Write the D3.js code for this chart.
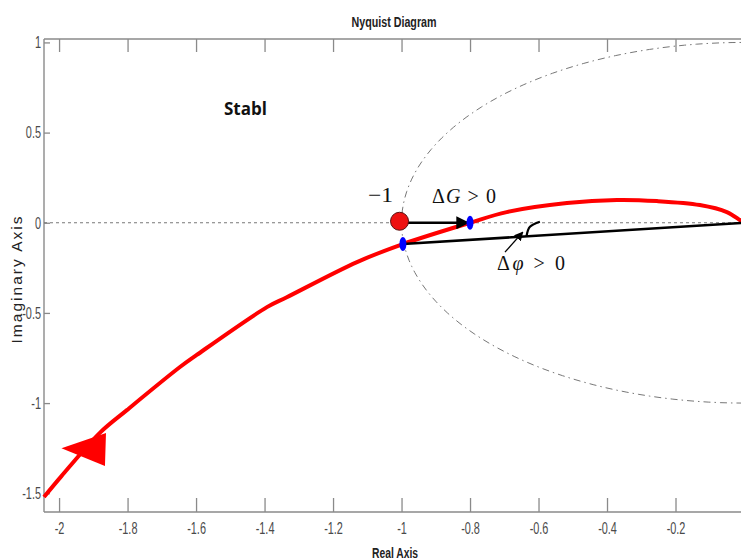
<!DOCTYPE html>
<html>
<head>
<meta charset="utf-8">
<script src="https://cdn.jsdelivr.net/npm/d3@7"></script>
<style>
  html, body { margin: 0; padding: 0; background: #fff; }
  svg { display: block; }
</style>
</head>
<body>
<svg id="chart" width="741" height="560"></svg>
<script>
// Open-loop frequency response (real / imaginary parts)
const nyquistRe = [-2.044, -1.993, -1.881, -1.802, -1.647, -1.598, -1.393, -1.335, -1.130, -0.996, -0.800, -0.693, -0.517, -0.371, -0.254, -0.129, -0.050, -0.012, 0.0];
const nyquistIm = [-1.521, -1.405, -1.165, -1.039, -0.800, -0.733, -0.468, -0.413, -0.218, -0.118, 0.000, 0.059, 0.109, 0.126, 0.120, 0.098, 0.059, 0.015, 0.0];

// Direction marker on the curve (triangle corners, data units)
const arrowRe = [-1.993, -1.863, -1.866];
const arrowIm = [-1.251, -1.166, -1.349];

// Axis ticks
const xTicks = [-2, -1.8, -1.6, -1.4, -1.2, -1, -0.8, -0.6, -0.4, -0.2];
const xTickLabels = ["-2", "-1.8", "-1.6", "-1.4", "-1.2", "-1", "-0.8", "-0.6", "-0.4", "-0.2"];
const yTicks = [1, 0.5, 0, -0.5, -1, -1.5];
const yTickLabels = ["1", "0.5", "0", "-0.5", "-1", "-1.5"];

// Critical point, gain-margin and phase-margin points
const criticalPoint = [-1, 0];
const gainPoint = [-0.8, 0];
const phasePoint = [-0.996, -0.118];
const origin = [0, 0];
// Phase angle arc and its pointer
const arcRe = [-0.635, -0.625, -0.596];
const arcIm = [-0.074, -0.022, 0.006];
const pointerFrom = [-0.698, -0.163];
const pointerTo = [-0.646, -0.052];

const svg = d3.select("#chart");
const plotLeft = 44, plotTop = 39, plotBottom = 512, plotRight = 744;

const x = d3.scaleLinear().domain([-2.044, 0]).range([plotLeft, plotRight]);
const y = d3.scaleLinear().domain([1.019, -1.604]).range([plotTop, plotBottom]);

const axisColor = "#8a8a8a";
const narrow = "'Liberation Sans Narrow', 'Arial Narrow', 'Liberation Sans', sans-serif";

// Squeeze a text element horizontally to mimic a condensed face
function condense(sel, factor) {
  sel.each(function () {
    const w = this.getComputedTextLength();
    d3.select(this).attr("textLength", w * factor).attr("lengthAdjust", "spacingAndGlyphs");
  });
}

// Axis frame
svg.append("line").attr("x1", plotLeft).attr("x2", plotRight).attr("y1", plotTop).attr("y2", plotTop)
  .attr("stroke", axisColor).attr("stroke-width", 1.4);
svg.append("line").attr("x1", plotLeft).attr("x2", plotRight).attr("y1", plotBottom).attr("y2", plotBottom)
  .attr("stroke", axisColor).attr("stroke-width", 1.4);
svg.append("line").attr("x1", plotLeft).attr("x2", plotLeft).attr("y1", plotTop).attr("y2", plotBottom)
  .attr("stroke", axisColor).attr("stroke-width", 1.4);

// Inward ticks on bottom and top
const xBottom = d3.axisBottom(x).tickValues(xTicks).tickSize(-14)
  .tickFormat((d, i) => xTickLabels[i]).tickPadding(22);
const gxb = svg.append("g").attr("transform", `translate(0,${plotBottom})`).call(xBottom);
gxb.select(".domain").remove();
gxb.selectAll(".tick line").attr("stroke", axisColor).attr("stroke-width", 1.3);
gxb.selectAll(".tick text").attr("font-family", narrow).attr("font-size", 16.5)
  .attr("fill", "#4a4a4a").attr("y", 22).attr("dy", 0).call(condense, 0.66);

const xTop = d3.axisTop(x).tickValues(xTicks).tickSize(-13).tickFormat("");
const gxt = svg.append("g").attr("transform", `translate(0,${plotTop})`).call(xTop);
gxt.select(".domain").remove();
gxt.selectAll(".tick line").attr("stroke", axisColor).attr("stroke-width", 1.3);

const yLeft = d3.axisLeft(y).tickValues(yTicks).tickSize(-6)
  .tickFormat((d, i) => yTickLabels[i]).tickPadding(10);
const gy = svg.append("g").attr("transform", `translate(${plotLeft},0)`).call(yLeft);
gy.select(".domain").remove();
gy.selectAll(".tick line").attr("stroke", axisColor).attr("stroke-width", 1.3);
gy.selectAll(".tick text").attr("font-family", narrow).attr("font-size", 16.5)
  .attr("fill", "#4a4a4a").attr("x", -3).call(condense, 0.66);

// Zero line on the real axis
svg.append("line").attr("x1", plotLeft).attr("x2", plotRight).attr("y1", y(0)).attr("y2", y(0))
  .attr("stroke", "#777").attr("stroke-width", 1).attr("stroke-dasharray", "3,3");

// Unit circle (dash-dot)
const circlePts = d3.range(0, 361, 2).map(a => [Math.cos(a * Math.PI / 180), Math.sin(a * Math.PI / 180)]);
svg.append("path")
  .attr("d", d3.line().x(d => x(d[0])).y(d => y(d[1]))(circlePts))
  .attr("fill", "none").attr("stroke", "#777").attr("stroke-width", 1)
  .attr("stroke-dasharray", "7,4,1.5,4");

// Nyquist curve
const curvePts = nyquistRe.map((r, i) => [r, nyquistIm[i]]);
svg.append("path")
  .attr("d", d3.line().x(d => x(d[0])).y(d => y(d[1])).curve(d3.curveCatmullRom)(curvePts))
  .attr("fill", "none").attr("stroke", "#ff0000").attr("stroke-width", 4)
  .attr("stroke-linejoin", "round");

// Direction triangle
const triPts = arrowRe.map((r, i) => [x(r), y(arrowIm[i])]);
svg.append("polygon").attr("points", triPts.map(p => p.join(",")).join(" "))
  .attr("fill", "#ff0000");

// Arrowhead markers
const defs = svg.append("defs");
defs.append("marker").attr("id", "head").attr("viewBox", "0 0 10 10")
  .attr("refX", 9).attr("refY", 5).attr("markerWidth", 5).attr("markerHeight", 5)
  .attr("markerUnits", "strokeWidth").attr("orient", "auto")
  .append("path").attr("d", "M0,0 L10,5 L0,10 Z").attr("fill", "#000");
defs.append("marker").attr("id", "headSmall").attr("viewBox", "0 0 10 10")
  .attr("refX", 9).attr("refY", 5).attr("markerWidth", 7).attr("markerHeight", 7)
  .attr("markerUnits", "strokeWidth").attr("orient", "auto")
  .append("path").attr("d", "M0,0 L10,5 L0,10 Z").attr("fill", "#000");

// Phase margin line: from the unit-circle crossing to the origin
svg.append("line")
  .attr("x1", x(phasePoint[0])).attr("y1", y(phasePoint[1]))
  .attr("x2", x(origin[0])).attr("y2", y(origin[1]))
  .attr("stroke", "#000").attr("stroke-width", 2.6);

// Gain margin arrow: from -1 to the real-axis crossing
svg.append("line")
  .attr("x1", x(criticalPoint[0])).attr("y1", y(criticalPoint[1]))
  .attr("x2", x(gainPoint[0]) - 2).attr("y2", y(gainPoint[1]))
  .attr("stroke", "#000").attr("stroke-width", 2.6)
  .attr("marker-end", "url(#head)");

// Phase angle arc and pointer
const arcPts = arcRe.map((r, i) => [r, arcIm[i]]);
svg.append("path")
  .attr("d", d3.line().x(d => x(d[0])).y(d => y(d[1])).curve(d3.curveNatural)(arcPts))
  .attr("fill", "none").attr("stroke", "#000").attr("stroke-width", 2.2);
svg.append("line")
  .attr("x1", x(pointerFrom[0])).attr("y1", y(pointerFrom[1]))
  .attr("x2", x(pointerTo[0])).attr("y2", y(pointerTo[1]))
  .attr("stroke", "#000").attr("stroke-width", 1.3)
  .attr("marker-end", "url(#headSmall)");

// Critical point
svg.append("circle").attr("cx", x(criticalPoint[0]) - 2).attr("cy", y(criticalPoint[1]) - 1.5)
  .attr("r", 9).attr("fill", "#ee1111").attr("stroke", "#5a1010").attr("stroke-width", 1);

// Crossing markers
[gainPoint, phasePoint].forEach(p => {
  svg.append("ellipse").attr("cx", x(p[0])).attr("cy", y(p[1]))
    .attr("rx", 3.5).attr("ry", 7).attr("fill", "#0000ff");
});

// Annotation text
const serif = "'Liberation Serif', 'DejaVu Serif', serif";
svg.append("text").attr("x", 368).attr("y", 202)
  .attr("font-family", serif).attr("font-size", 21).attr("fill", "#111")
  .attr("textLength", 25).attr("lengthAdjust", "spacingAndGlyphs").text("\u22121");

const gTxt = svg.append("text").attr("x", 432).attr("y", 203)
  .attr("font-family", serif).attr("font-size", 20).attr("fill", "#111")
  .attr("textLength", 64).attr("lengthAdjust", "spacing");
gTxt.append("tspan").text("\u0394");
gTxt.append("tspan").attr("font-style", "italic").text("G");
gTxt.append("tspan").text(" > 0");

const pTxt = svg.append("text").attr("x", 497).attr("y", 270)
  .attr("font-family", serif).attr("font-size", 20).attr("fill", "#111")
  .attr("textLength", 68).attr("lengthAdjust", "spacing");
pTxt.append("tspan").text("\u0394");
pTxt.append("tspan").attr("font-style", "italic").text("\u03c6");
pTxt.append("tspan").text(" > 0");

svg.append("text").attr("x", 224).attr("y", 115)
  .attr("font-family", "'Open Sans', 'Liberation Sans', sans-serif")
  .attr("font-weight", "bold").attr("font-size", 17).attr("fill", "#111").text("Stabl");

// Titles
svg.append("text").attr("x", 394).attr("y", 27).attr("text-anchor", "middle")
  .attr("font-family", narrow).attr("font-weight", "bold").attr("font-size", 14)
  .attr("fill", "#222").attr("textLength", 85).attr("lengthAdjust", "spacingAndGlyphs")
  .text("Nyquist Diagram");
svg.append("text").attr("x", 395).attr("y", 558).attr("text-anchor", "middle")
  .attr("font-family", narrow).attr("font-weight", "bold").attr("font-size", 14)
  .attr("fill", "#222").attr("textLength", 46).attr("lengthAdjust", "spacingAndGlyphs")
  .text("Real Axis");
svg.append("text").attr("transform", "translate(22,280) rotate(-90)")
  .attr("text-anchor", "middle")
  .attr("font-family", narrow).attr("font-size", 15.5).attr("fill", "#222")
  .attr("textLength", 127).attr("lengthAdjust", "spacing")
  .text("Imaginary Axis");
</script>
</body>
</html>
